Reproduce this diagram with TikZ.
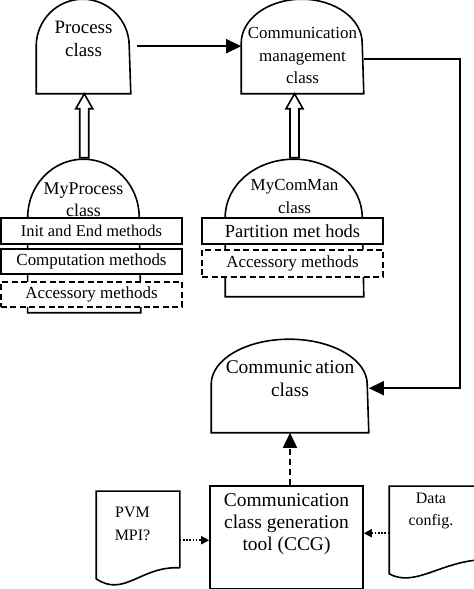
\documentclass[tikz,border=0pt]{standalone}
\usepackage{fontspec}
\setmainfont{Liberation Serif}
\usetikzlibrary{arrows.meta}

\begin{document}
\begin{tikzpicture}[x=1bp, y=1bp, line width=1.6bp,
    body/.style 2 args={draw=none, inner sep=0pt, minimum width=#1, minimum height=#2},
    method/.style={draw, fill=white, inner sep=0pt, minimum width=181bp, minimum height=26bp},
    optmethod/.style={method, dash pattern=on 6bp off 3.5bp},
    lbl/.style={align=center, inner sep=0pt},
    arr/.style={-{Triangle[length=15bp,width=14bp]}},
    dasharr/.style={arr, dash pattern=on 6bp off 4bp},
    dotarr/.style={dash pattern=on 1.6bp off 1.6bp, -{Triangle[length=8bp,width=8bp]}}]
    \useasboundingbox (0,0) rectangle (474,589);

    % Process class
    \node [body={93bp}{46bp}] (proc) at (83.5,519) {};
    \draw (proc.south west) -- (proc.north west)
        arc [start angle=180, end angle=0, x radius=46.5bp, y radius=47bp]
        -- (proc.south east) -- cycle;
    \node [lbl, font=\fontsize{19}{23}\selectfont] (proctxt) at (83.5,550.5) {Process\\class};

    % Communication management class
    \node [body={121bp}{49bp}] (cmm) at (302.5,520.5) {};
    \draw (cmm.south west) -- (cmm.north west)
        arc [start angle=180, end angle=0, x radius=60.5bp, y radius=44bp]
        -- (cmm.south east) -- cycle;
    \node [lbl, font=\fontsize{17}{22.5}\selectfont] (cmmtxt) at (302.5,533.5) {Communication\\management\\class};

    % MyProcess class
    \node [body={111.5bp}{94bp}] (mproc) at (84.25,324) {};
    \draw (mproc.south west) -- (mproc.north west)
        arc [start angle=180, end angle=0, x radius=55.75bp, y radius=58bp]
        -- (mproc.south east) -- cycle;
    \node [lbl, font=\fontsize{18}{22}\selectfont] (mproctxt) at (83.5,389) {MyProcess\\class};
    \node [method, font=\fontsize{16.5}{20}\selectfont] (init) at (91.5,358) {Init and End methods};
    \node [method, minimum height=25bp, font=\fontsize{17}{20}\selectfont] (comp) at (91.5,327.5) {Computation methods};
    \node [optmethod, minimum height=25bp, font=\fontsize{17}{20}\selectfont] (acc) at (91.5,294.5) {Accessory methods};

    % MyComMan class
    \node [body={137bp}{78bp}] (mcm) at (294.5,332) {};
    \draw (mcm.south west) -- (mcm.north west)
        arc [start angle=180, end angle=0, x radius=68.5bp, y radius=58bp]
        -- (mcm.south east) -- cycle;
    \node [lbl, font=\fontsize{17}{23}\selectfont] (mcmtxt) at (294.5,392.5) {MyComMan\\class};
    \node [method, font=\fontsize{18.5}{20}\selectfont] (part) at (292.5,358) {Partition met hods};
    \node [optmethod, minimum height=27bp, font=\fontsize{17}{20}\selectfont] (acctwo) at (292.5,325.5) {Accessory methods};

    % Communication class
    \node [body={156bp}{47bp}] (comm) at (290,180.5) {};
    \draw (comm.south west) -- (comm.north west)
        arc [start angle=180, end angle=0, x radius=78bp, y radius=45bp]
        -- (comm.south east) -- cycle;
    \node [lbl, font=\fontsize{19.5}{23}\selectfont] (commtxt) at (290,210.5) {Communic\,ation\\class};

    % generation tool
    \node [body={153bp}{102.5bp}, draw] (ccg) at (286.5,51.75) {};
    \node [lbl, font=\fontsize{19.5}{22}\selectfont] (ccgtxt) at (286.5,65) {Communication\\class generation\\tool (CCG)};

    % input documents
    \node [body={82bp}{75bp}] (pvm) at (138,59.5) {};
    \draw (pvm.south east) -- (pvm.north east) -- (pvm.north west) -- ([yshift=-11bp]pvm.south west)
        .. controls +(28,-19) and +(-39,2) .. (pvm.south east);
    \node [lbl, font=\fontsize{16}{23}\selectfont] (pvmtxt) at (132.5,65.5) {PVM\\MPI?};
    \node [body={90bp}{72bp}] (data) at (435,66) {};
    \draw (data.south east) -- (data.north east) -- (data.north west) -- ([yshift=-14bp]data.south west)
        .. controls +(25,-14) and +(-40,-2) .. (data.south east);
    \node [lbl, font=\fontsize{16}{22}\selectfont] (datatxt) at (431,78) {Data\\config.};

    % connectors
    \draw [arr] ([xshift=6bp]proc.north east) -- (proc.north east -| cmm.west);
    \draw [arr] ([yshift=9.5bp]cmm.east) -- ++(96,0) |- ([yshift=-4bp]comm.north east);
    \draw (proc.south -| mproc.north) -- ++(8.5,-15) -- ++(-4,0) -- ++(0,-49)
        -- ++(-9,0) -- ++(0,49) -- ++(-4,0) -- cycle;
    \draw (cmm.south -| mcm.north) -- ++(8.5,-15) -- ++(-4,0) -- ++(0,-49)
        -- ++(-9,0) -- ++(0,49) -- ++(-4,0) -- cycle;
    \draw [dasharr] (comm.south |- ccg.north) -- (comm.south);
    \draw [dotarr] ([yshift=-3bp]ccg.west -| pvm.east) -- ([yshift=-3bp]ccg.west);
    \draw [dotarr] ([yshift=4bp]ccg.east -| data.west) -- ([yshift=4bp]ccg.east);
\end{tikzpicture}
\end{document}
